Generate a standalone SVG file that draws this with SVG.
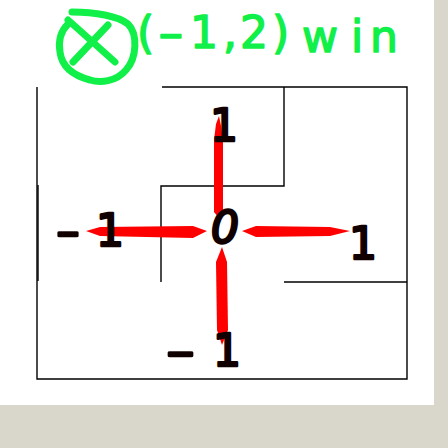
<svg xmlns="http://www.w3.org/2000/svg" width="448" height="448" viewBox="0 0 448 448">
<style>
.bg{fill:#d9d7cb}
.ln{fill:none;stroke:#000;stroke-width:1.4}
.num{font-family:"DejaVu Sans",sans-serif;font-size:44px;fill:#110000;stroke:#110000;stroke-width:2.5;stroke-linejoin:round}
.mid{text-anchor:middle}
.grn{font-family:"DejaVu Sans",sans-serif;font-size:44px;fill:#10f048;stroke:#10f048;stroke-width:1.5;stroke-linejoin:round;stroke-linecap:round}
.sym{fill:none;stroke:#10f048;stroke-width:7;stroke-linecap:round;stroke-linejoin:round}
.arr{fill:#ff0000}
</style>
<rect width="448" height="448" fill="#ffffff"/>
<rect class="bg" x="0" y="405" width="448" height="43"/>
<rect class="bg" x="434" y="0" width="14" height="448"/>
<g id="grid">
<path class="ln" d="M162 87H407V379H37V87"/>
<path class="ln" d="M284 87V186H161V282"/>
<path class="ln" d="M284 282H407"/>
<path class="ln" d="M38 185V281" stroke-width="2"/>
</g>
<g id="title">
<path class="sym" d="M72 12C95 12 118 16 128 24C138 34 137 58 126 70C116 82 100 83 90 80C75 76 62 68 60 52C58 40 62 30 68 24"/>
<path class="sym" d="M68 20L115 62M108 25L73 62"/>
<text class="grn" y="48"><tspan x="137">(</tspan><tspan x="158" textLength="26" lengthAdjust="spacingAndGlyphs">-</tspan><tspan x="190 223 240 272">1,2)</tspan></text>
<text class="grn" x="302 351 370" y="52">win</text>
</g>
<g id="connectors">
<polygon class="arr" points="214,212 214,140 216,124 219,116 221,126 223,140 223,212 219,218"/>
<polygon class="arr" points="207,231 193,226 100,227 86,231 100,236 193,238"/>
<polygon class="arr" points="242,231 256,226 330,227 350,231 330,236 256,237"/>
<polygon class="arr" points="222,247 227,262 228,330 222,345 217,330 216,262"/>
</g>
<g id="n0"><text class="num mid" x="225" y="243" font-style="italic">0</text></g>
<g id="n-top"><text class="num mid" x="224" y="141">1</text></g>
<g id="n-left"><text class="num" y="246"><tspan x="56" textLength="24" lengthAdjust="spacingAndGlyphs">-</tspan><tspan x="96">1</tspan></text></g>
<g id="n-right"><text class="num mid" x="363" y="259" font-size="48">1</text></g>
<g id="n-bottom"><text class="num" y="366"><tspan x="166" textLength="29" lengthAdjust="spacingAndGlyphs">-</tspan><tspan x="213">1</tspan></text></g>
</svg>
